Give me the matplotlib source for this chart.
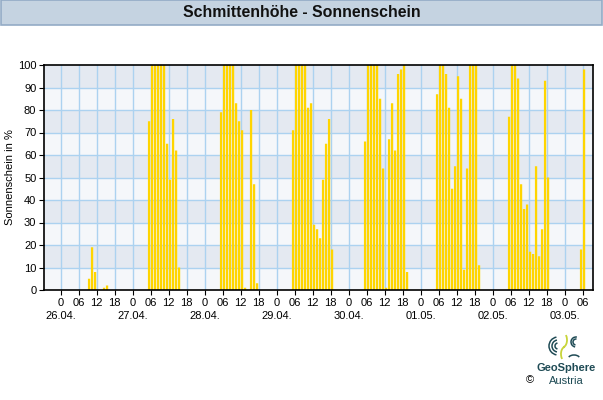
import numpy as np
import matplotlib
matplotlib.use("Agg")
import matplotlib.pyplot as plt
from matplotlib.patches import Rectangle, Arc
from matplotlib.transforms import blended_transform_factory

plt.rcParams['font.family'] = ['Liberation Sans', 'DejaVu Sans']

# hourly sunshine in % (hours 0..23 of each day)
d_2604 = [0, 0, 0, 0, 0, 0, 0, 0, 0, 0, 5, 19, 8, 0, 0, 1, 2, 0, 0, 0, 0, 0, 0, 0]
d_2704 = [0, 0, 0, 0, 0, 0, 75, 100, 100, 100, 100, 100, 65, 49, 76, 62, 10, 0, 0, 0, 0, 0, 0, 0]
d_2804 = [0, 0, 0, 0, 0, 0, 79, 100, 100, 100, 100, 83, 75, 71, 1, 0, 80, 47, 3, 0, 0, 0, 0, 0]
d_2904 = [0, 0, 0, 0, 0, 0, 71, 100, 100, 100, 100, 81, 83, 29, 27, 23, 49, 65, 76, 18, 0, 0, 0, 0]
d_3004 = [0, 0, 0, 0, 0, 0, 66, 100, 100, 100, 100, 85, 54, 1, 67, 83, 62, 96, 98, 100, 8, 0, 0, 0]
d_0105 = [0, 0, 0, 0, 0, 0, 87, 100, 100, 96, 81, 45, 55, 95, 85, 9, 54, 100, 100, 100, 11, 0, 0, 0]
d_0205 = [0, 0, 0, 0, 0, 0, 77, 100, 100, 94, 47, 36, 38, 17, 16, 55, 15, 27, 93, 50, 0, 0, 0, 0]
d_0305 = [0, 0, 0, 0, 0, 0, 18, 98]

days = ["26.04.", "27.04.", "28.04.", "29.04.", "30.04.", "01.05.", "02.05.", "03.05."]
hour_labels = ["0", "06", "12", "18"]

values = np.array(d_2604 + d_2704 + d_2804 + d_2904 + d_3004 + d_0105 + d_0205 + d_0305)
hours = np.arange(len(values))

fig = plt.figure(figsize=(6.03, 4.00), dpi=100)

# title bar
fig.patches.append(Rectangle((0.001, 1 - 24.5 / 400), 0.997, 24 / 400, transform=fig.transFigure,
                             facecolor='#c5d3e1', edgecolor='#93abc6', linewidth=1.2))
fig.text(0.5, 1 - 12.5 / 400, "Schmittenhöhe - Sonnenschein", ha='center', va='center',
         fontsize=11.4, fontweight='bold', color='#111111')

# 549 px wide -> 3 px per hour
ax = fig.add_axes([44 / 603, 110 / 400, 549 / 603, 225 / 400])

# alternating horizontal bands
for i in range(10):
    ax.axhspan(i * 10, (i + 1) * 10, color='#e4e9f1' if i % 2 else '#f5f7fa', lw=0, zorder=0)

ticks = np.arange(0, len(values), 6)
for t in ticks:
    ax.axvline(t, color='#acd2f0', lw=1, zorder=1)
for yv in range(10, 100, 10):
    ax.axhline(yv, color='#acd2f0', lw=1, zorder=1)

ax.bar(hours - 0.86, values, width=0.76, align='edge', color='#ffd500', lw=0, zorder=2,
       snap=False)

ax.set_xlim(-5.5, 177.5)
ax.set_ylim(0, 100)
ax.set_yticks(range(0, 101, 10))
ax.set_xticks(ticks)
ax.set_xticklabels([hour_labels[(t % 24) // 6] for t in ticks])
ax.tick_params(axis='both', labelsize=8, length=3.5, width=0.8, pad=2, color='black')
for s in ax.spines.values():
    s.set_color('black')
    s.set_linewidth(1.2)
    s.set_zorder(5)

# date labels under the midnight ticks
trans = blended_transform_factory(ax.transData, fig.transFigure)
for i, d in enumerate(days):
    ax.text(i * 24, 1 - 316 / 400, d, transform=trans, ha='center', va='center', fontsize=8)

fig.text(10 / 603, 1 - 177 / 400, "Sonnenschein in %", rotation=90, ha='center', va='center', fontsize=8)

# logo
logo_ax = fig.add_axes([546 / 603, 1 - 362 / 400, 36 / 603, 30 / 400])
logo_ax.set_xlim(0, 36)
logo_ax.set_ylim(0, 30)
logo_ax.axis('off')
for r in (3, 6, 9):
    logo_ax.add_patch(Arc((12, 16), r * 2, r * 2, theta1=100, theta2=260, color='#1f4b55', lw=1.1))
logo_ax.add_patch(Arc((17, 22), 8, 14, theta1=-90, theta2=60, color='#c8d43a', lw=1.3))
logo_ax.add_patch(Arc((19, 8), 8, 14, theta1=90, theta2=240, color='#c8d43a', lw=1.3))
for r in (3, 5):
    logo_ax.add_patch(Arc((30, 20), r * 2, r * 2, theta1=80, theta2=260, color='#1f4b55', lw=1.1))
logo_ax.add_patch(Arc((28, 3), 12, 8, theta1=20, theta2=160, color='#1f4b55', lw=1.1))
fig.text(566 / 603, 1 - 368 / 400, "GeoSphere", ha='center', va='center', fontsize=8,
         fontweight='bold', color='#1f4b55')
fig.text(566 / 603, 1 - 381 / 400, "Austria", ha='center', va='center', fontsize=8, color='#1f4b55')
fig.text(530 / 603, 1 - 380 / 400, "©", ha='center', va='center', fontsize=8, color='black')

fig.savefig("out.png", dpi=100)
